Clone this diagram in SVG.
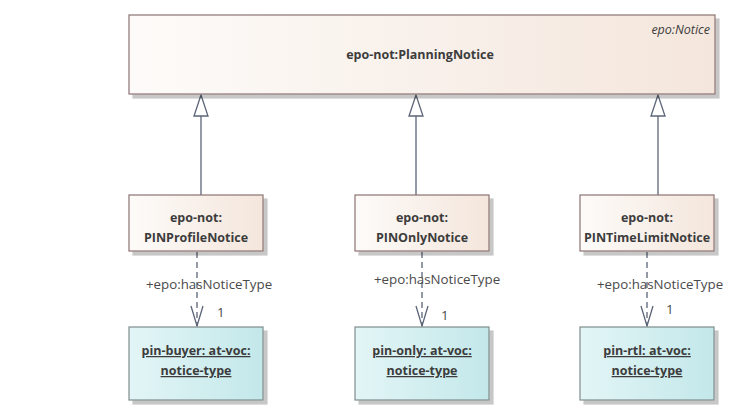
<svg xmlns="http://www.w3.org/2000/svg" width="729" height="417" viewBox="0 0 729 417">
  <defs>
    <linearGradient id="gBeige" x1="0" y1="0" x2="1" y2="0">
      <stop offset="0" stop-color="#fdfbf9"/>
      <stop offset="1" stop-color="#f4e6dc"/>
    </linearGradient>
    <linearGradient id="gTeal" x1="0" y1="0" x2="1" y2="0">
      <stop offset="0" stop-color="#e3f5f6"/>
      <stop offset="1" stop-color="#c3e8ea"/>
    </linearGradient>
    <filter id="shadow" x="-5%" y="-5%" width="115%" height="125%">
      <feOffset dx="4" dy="4" in="SourceAlpha" result="o"/>
      <feComponentTransfer in="o" result="s"><feFuncA type="linear" slope="0.22"/></feComponentTransfer>
      <feMerge><feMergeNode in="s"/><feMergeNode in="SourceGraphic"/></feMerge>
    </filter>
  </defs>
  <style>
    .cls { fill: url(#gBeige); stroke: #8c7373; stroke-width: 1.2; filter: url(#shadow); }
    .obj { fill: url(#gTeal); stroke: #7f8c8c; stroke-width: 1.2; filter: url(#shadow); }
    text { font-family: "Open Sans", "Noto Sans", "DejaVu Sans", sans-serif; font-size: 12.5px; fill: #3c3c3c; }
    .b { font-weight: bold; text-anchor: middle; }
    .u { text-decoration: underline; }
    .lbl { font-size: 13.3px; fill: #4a4a4a; }
    .gen { stroke: #5b6577; stroke-width: 1.3; fill: none; }
    .tri { stroke: #5b6577; stroke-width: 1.3; fill: #ffffff; }
    .dep { stroke: #5b6577; stroke-width: 1.3; fill: none; stroke-dasharray: 6 4; }
    .head { stroke: #5b6577; stroke-width: 1.3; fill: none; }
  </style>

  <!-- connectors -->
  <g id="connectors">
    <!-- generalizations -->
    <line class="gen" x1="201" y1="116" x2="201" y2="195"/>
    <polygon class="tri" points="201,95 194,116 208,116"/>
    <line class="gen" x1="416" y1="116" x2="416" y2="195"/>
    <polygon class="tri" points="416,95 409,116 423,116"/>
    <line class="gen" x1="658" y1="116" x2="658" y2="195"/>
    <polygon class="tri" points="658,95 651,116 665,116"/>

    <!-- associations -->
    <line class="dep" x1="197" y1="252" x2="197" y2="326"/>
    <polyline class="head" points="191,306 197,326 203,306"/>
    <text class="lbl" x="146" y="289">+epo:hasNoticeType</text>
    <text class="lbl" x="217" y="317">1</text>

    <line class="dep" x1="422" y1="252" x2="422" y2="326"/>
    <polyline class="head" points="416,306 422,326 428,306"/>
    <text class="lbl" x="374" y="284">+epo:hasNoticeType</text>
    <text class="lbl" x="441" y="320">1</text>

    <line class="dep" x1="647" y1="252" x2="647" y2="326"/>
    <polyline class="head" points="641,306 647,326 653,306"/>
    <text class="lbl" x="597" y="289">+epo:hasNoticeType</text>
    <text class="lbl" x="666" y="314">1</text>
  </g>

  <g id="PlanningNotice">
    <rect class="cls" x="129" y="15" width="586" height="79"/>
    <text x="710" y="34" style="font-style:italic;font-size:12.5px;text-anchor:end">epo:Notice</text>
    <text class="b" x="420" y="59">epo-not:PlanningNotice</text>
  </g>

  <g id="PINProfileNotice">
    <rect class="cls" x="129" y="195" width="134" height="56"/>
    <text class="b" x="196" y="222">epo-not:</text>
    <text class="b" x="196" y="242">PINProfileNotice</text>
  </g>

  <g id="PINOnlyNotice">
    <rect class="cls" x="355" y="195" width="134" height="56"/>
    <text class="b" x="422" y="222">epo-not:</text>
    <text class="b" x="422" y="242">PINOnlyNotice</text>
  </g>

  <g id="PINTimeLimitNotice">
    <rect class="cls" x="580" y="195" width="134" height="56"/>
    <text class="b" x="647" y="222">epo-not:</text>
    <text class="b" x="647" y="242">PINTimeLimitNotice</text>
  </g>

  <g id="pin-buyer">
    <rect class="obj" x="129" y="327" width="134" height="73"/>
    <text class="b u" x="196" y="355">pin-buyer: at-voc:</text>
    <text class="b u" x="196" y="375">notice-type</text>
  </g>

  <g id="pin-only">
    <rect class="obj" x="355" y="327" width="134" height="73"/>
    <text class="b u" x="422" y="355">pin-only: at-voc:</text>
    <text class="b u" x="422" y="375">notice-type</text>
  </g>

  <g id="pin-rtl">
    <rect class="obj" x="580" y="327" width="134" height="73"/>
    <text class="b u" x="647" y="355">pin-rtl: at-voc:</text>
    <text class="b u" x="647" y="375">notice-type</text>
  </g>
</svg>
